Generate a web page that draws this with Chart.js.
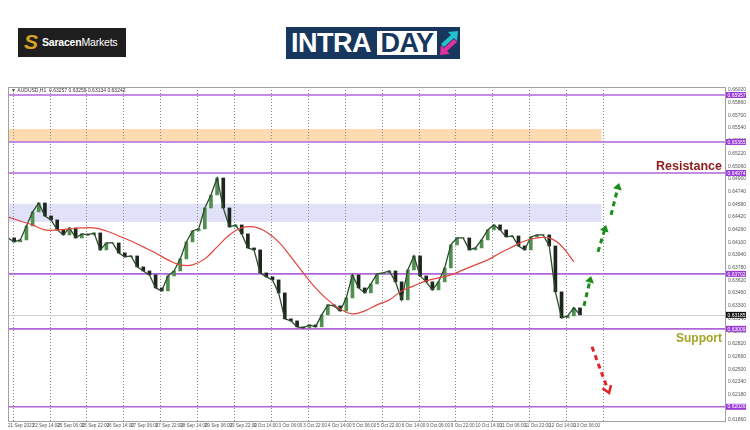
<!DOCTYPE html>
<html>
<head>
<meta charset="utf-8">
<script src="https://cdn.jsdelivr.net/npm/chart.js@4.4.0/dist/chart.umd.min.js"></script>
<style>
    html, body { margin: 0; padding: 0; background: #fff; }
    #contenedor { position: relative; width: 750px; height: 430px; overflow: hidden; font-family: "Liberation Sans", Arial, sans-serif; }
    #grafico { position: absolute; left: 0; top: 0; }
    .logo-saracen { position: absolute; left: 18px; top: 28px; width: 108px; height: 29px; background: #1e1e1e; color: #fff; }
    .logo-saracen .icono { position: absolute; left: 6px; top: 2px; font: italic bold 21px "Liberation Sans", sans-serif; color: #d9a126; }
    .logo-saracen .texto { position: absolute; left: 24px; top: 8px; font-size: 10.5px; letter-spacing: -0.2px; }
    .logo-intraday { position: absolute; left: 286px; top: 27px; width: 174px; height: 32px; background: #17375e; }
    .logo-intraday .intra { position: absolute; left: 5px; top: 1px; font: bold 27px "Liberation Sans", sans-serif; color: #fff; letter-spacing: -0.5px; }
    .logo-intraday .day { position: absolute; left: 91px; top: 4px; height: 24px; width: 60px; background: #fff; color: #17375e; font: bold 27px "Liberation Sans", sans-serif; line-height: 25px; letter-spacing: -0.5px; text-align: center; }
    .logo-intraday svg { position: absolute; left: 152px; top: 2px; }
</style>
</head>
<body>
<div id="contenedor">
    <canvas id="grafico" width="750" height="430"></canvas>
    <div class="logo-saracen"><span class="icono">S</span><span class="texto"><b>Saracen</b>Markets</span></div>
    <div class="logo-intraday">
        <span class="intra">INTRA</span><span class="day">DAY</span>
        <svg width="22" height="28" viewBox="0 0 22 28">
            <path d="M3 15 L13 6 L10 3 L20 2 L19 12 L16 9 L6 18 Z" fill="#22c3cc"/>
            <path d="M19 13 L9 22 L12 25 L2 26 L3 16 L6 19 L16 10 Z" fill="#e0329c"/>
        </svg>
    </div>
</div>
<script>
// Cierres H1 muestreados cada 4 velas (indice de vela = i * 4)
const cierres = [
    0.64155, 0.64105, 0.64130, 0.64306, 0.64483, 0.64596, 0.64432, 0.64382, 0.64256, 0.64193,
    0.64281, 0.64155, 0.64206, 0.64193, 0.64218, 0.64004, 0.64092, 0.64092, 0.63966, 0.63916,
    0.63928, 0.63790, 0.63739, 0.63689, 0.63525, 0.63487, 0.63676, 0.63739, 0.63891, 0.64105,
    0.64243, 0.64269, 0.64533, 0.64697, 0.64911, 0.64533, 0.64294, 0.64319, 0.64206, 0.64029,
    0.64004, 0.63714, 0.63664, 0.63626, 0.63462, 0.63135, 0.63109, 0.63034, 0.63021, 0.63059,
    0.63034, 0.63185, 0.63311, 0.63298, 0.63235, 0.63399, 0.63689, 0.63525, 0.63462, 0.63576,
    0.63702, 0.63714, 0.63739, 0.63601, 0.63374, 0.63752, 0.63928, 0.63676, 0.63601, 0.63500,
    0.63601, 0.63777, 0.64067, 0.64155, 0.64155, 0.64004, 0.64029, 0.64130, 0.64256, 0.64319,
    0.64256, 0.64168, 0.64180, 0.64054, 0.64004, 0.64168, 0.64193, 0.64193, 0.64054, 0.63475,
    0.63147, 0.63172, 0.63273, 0.63185
];

// Media movil (cada 8 velas)
const mediaMovil = [
    0.64420, 0.64369, 0.64319, 0.64256, 0.64256, 0.64269, 0.64281, 0.64281, 0.64243, 0.64180,
    0.64117, 0.64042, 0.63966, 0.63878, 0.63815, 0.63815, 0.63891, 0.64042, 0.64193, 0.64281,
    0.64294, 0.64231, 0.64105, 0.63916, 0.63714, 0.63525, 0.63374, 0.63261, 0.63198, 0.63235,
    0.63311, 0.63374, 0.63487, 0.63550, 0.63613, 0.63651, 0.63689, 0.63752, 0.63815, 0.63878,
    0.63966, 0.64042, 0.64117, 0.64155, 0.64155, 0.64054, 0.63853
];

// Etiquetas de tiempo (una cada 16 velas)
const etiquetasTiempo = [
    '21 Sep 2023', '22 Sep 14:00', '25 Sep 06:00', '25 Sep 22:00', '26 Sep 14:00', '27 Sep 06:00',
    '27 Sep 22:00', '28 Sep 14:00', '29 Sep 06:00', '29 Sep 22:00', '2 Oct 14:00', '3 Oct 06:00',
    '3 Oct 22:00', '4 Oct 14:00', '5 Oct 06:00', '5 Oct 22:00', '6 Oct 14:00', '9 Oct 06:00',
    '9 Oct 22:00', '10 Oct 14:00', '11 Oct 06:00', '11 Oct 22:00', '12 Oct 14:00', '13 Oct 06:00'
];

// Etiquetas del eje de precios
const ticksPrecio = [
    0.61860, 0.62020, 0.62180, 0.62340, 0.62500, 0.62660, 0.62820, 0.62980, 0.63140, 0.63300,
    0.63460, 0.63620, 0.63780, 0.63940, 0.64100, 0.64260, 0.64420, 0.64580, 0.64740, 0.64900,
    0.65060, 0.65220, 0.65380, 0.65540, 0.65700, 0.65860, 0.66020
];

// Niveles horizontales y zonas
const niveles = [0.65957, 0.65365, 0.64974, 0.63702, 0.63009, 0.62026];
const nivelResistencia = 0.64974;
const nivelSoporte = 0.63009;
const zonaNaranja = [0.65377, 0.65529];
const zonaLila = [0.64357, 0.64584];
const finZonas = 386;

// Flechas de escenario: [vela inicio, precio inicio, vela fin, precio fin]
const flechasAlcistas = [
    [374.6, 0.63298, 379.2, 0.63676],
    [383.7, 0.63979, 389.0, 0.64319],
    [392.2, 0.64445, 397.4, 0.64848]
];
const flechasBajistas = [
    [379.8, 0.62782, 390.9, 0.62202]
];

const precioActual = cierres[cierres.length - 1];

const datosVelas = cierres.map((c, i) => ({ x: i * 4, y: [i > 0 ? cierres[i - 1] : c, c] }));
const datosLinea = cierres.map((c, i) => ({ x: i * 4, y: c }));
const datosMedia = mediaMovil.map((v, j) => ({ x: j * 8, y: v }));

const fmt = (v) => v.toFixed(5);

// Plugin para zonas, niveles, rejilla, flechas y textos
const pluginNiveles = {
    id: 'niveles',
    beforeDatasetsDraw(chart) {
        const { ctx, chartArea: a, scales: { x, y } } = chart;
        ctx.save();
        ctx.beginPath();
        ctx.rect(a.left, a.top, a.width, a.height);
        ctx.clip();

        const xFin = x.getPixelForValue(finZonas);
        ctx.fillStyle = 'rgba(252, 205, 150, 0.75)';
        let y1 = y.getPixelForValue(zonaNaranja[1]), y2 = y.getPixelForValue(zonaNaranja[0]);
        ctx.fillRect(a.left, y1, xFin - a.left, y2 - y1);
        ctx.fillStyle = 'rgba(205, 205, 245, 0.6)';
        y1 = y.getPixelForValue(zonaLila[1]); y2 = y.getPixelForValue(zonaLila[0]);
        ctx.fillRect(a.left, y1, xFin - a.left, y2 - y1);

        // Rejilla vertical punteada (cada 24 velas)
        ctx.strokeStyle = '#8a8a8a';
        ctx.lineWidth = 1;
        ctx.setLineDash([1, 2]);
        for (let b = 3; b <= 390; b += 24) {
            const xx = Math.round(x.getPixelForValue(b)) + 0.5;
            ctx.beginPath();
            ctx.moveTo(xx, a.top);
            ctx.lineTo(xx, a.bottom);
            ctx.stroke();
        }
        ctx.setLineDash([]);

        // Linea del precio actual
        const yAct = Math.round(y.getPixelForValue(precioActual)) + 0.5;
        ctx.strokeStyle = '#cfcfcf';
        ctx.beginPath();
        ctx.moveTo(a.left, yAct);
        ctx.lineTo(a.right, yAct);
        ctx.stroke();

        ctx.strokeStyle = '#b165d8';
        ctx.lineWidth = 1.6;
        niveles.forEach(n => {
            const yy = y.getPixelForValue(n);
            ctx.beginPath();
            ctx.moveTo(a.left, yy);
            ctx.lineTo(a.right, yy);
            ctx.stroke();
        });
        ctx.restore();
    },
    afterDraw(chart) {
        const { ctx, chartArea: a, scales: { x, y } } = chart;
        ctx.save();

        // Marco
        ctx.strokeStyle = '#a0a0a0';
        ctx.lineWidth = 1;
        ctx.strokeRect(a.left + 0.5, a.top + 0.5, a.width, a.height);

        // Etiquetas de niveles en el eje
        ctx.font = '5px "Liberation Sans", sans-serif';
        ctx.textBaseline = 'middle';
        ctx.textAlign = 'left';
        niveles.forEach(n => {
            const yy = y.getPixelForValue(n);
            ctx.fillStyle = '#9a3bd8';
            ctx.fillRect(a.right + 1, yy - 3, 20, 6);
            ctx.fillStyle = '#fff';
            ctx.fillText(fmt(n), a.right + 2.5, yy + 0.3);
        });
        const yAct = y.getPixelForValue(precioActual);
        ctx.fillStyle = '#111';
        ctx.fillRect(a.right + 1, yAct - 3, 20, 6);
        ctx.fillStyle = '#fff';
        ctx.fillText(fmt(precioActual), a.right + 2.5, yAct + 0.3);

        // Texto de simbolo
        ctx.fillStyle = '#333';
        ctx.fillText('\u25BC AUDUSD,H1  0.63257 0.63259 0.63134 0.63242', a.left + 3, a.top + 4);

        // Flechas
        const dibujarFlecha = (f, color, relleno) => {
            const xa = x.getPixelForValue(f[0]), ya = y.getPixelForValue(f[1]);
            const xb = x.getPixelForValue(f[2]), yb = y.getPixelForValue(f[3]);
            const ang = Math.atan2(yb - ya, xb - xa);
            const largoCabeza = 8;
            ctx.strokeStyle = color;
            ctx.fillStyle = color;
            ctx.lineWidth = 3;
            ctx.setLineDash([5, 4]);
            ctx.beginPath();
            ctx.moveTo(xa, ya);
            ctx.lineTo(xb - Math.cos(ang) * 5, yb - Math.sin(ang) * 5);
            ctx.stroke();
            ctx.setLineDash([]);
            ctx.beginPath();
            ctx.moveTo(xb - largoCabeza * Math.cos(ang - 0.6), yb - largoCabeza * Math.sin(ang - 0.6));
            ctx.lineTo(xb, yb);
            ctx.lineTo(xb - largoCabeza * Math.cos(ang + 0.6), yb - largoCabeza * Math.sin(ang + 0.6));
            if (relleno) { ctx.closePath(); ctx.fill(); } else { ctx.lineWidth = 2.5; ctx.stroke(); }
        };
        flechasAlcistas.forEach(f => dibujarFlecha(f, '#1a8c1a', true));
        flechasBajistas.forEach(f => dibujarFlecha(f, '#e02424', false));

        // Textos de resistencia y soporte
        ctx.textAlign = 'right';
        ctx.textBaseline = 'alphabetic';
        ctx.font = 'bold 12.5px "Liberation Sans", sans-serif';
        ctx.fillStyle = '#8c1b1f';
        ctx.fillText('Resistance', a.right - 3, y.getPixelForValue(nivelResistencia) - 3);
        ctx.font = 'bold 12px "Liberation Sans", sans-serif';
        ctx.fillStyle = '#a5a324';
        ctx.fillText('Support', a.right - 3, y.getPixelForValue(nivelSoporte) + 13);
        ctx.restore();
    }
};

new Chart(document.getElementById('grafico'), {
    type: 'bar',
    data: {
        datasets: [
            {
                type: 'line',
                label: 'Media',
                data: datosMedia,
                borderColor: '#e0463c',
                borderWidth: 1.2,
                pointRadius: 0,
                tension: 0.4,
                order: 0
            },
            {
                type: 'line',
                label: 'Precio',
                data: datosLinea,
                borderColor: '#2e4a2e',
                borderWidth: 1.3,
                pointRadius: 0,
                tension: 0,
                order: 1
            },
            {
                type: 'bar',
                label: 'Velas',
                data: datosVelas,
                backgroundColor: (c) => {
                    const r = c.raw;
                    return r && r.y[1] >= r.y[0] ? '#4f8f4f' : '#1c261c';
                },
                barThickness: 3,
                grouped: false,
                order: 2
            }
        ]
    },
    options: {
        responsive: false,
        animation: false,
        layout: { padding: { top: 87, left: 8, right: 0, bottom: 0 } },
        plugins: { legend: { display: false }, tooltip: { enabled: false } },
        scales: {
            x: {
                type: 'linear',
                position: 'bottom',
                min: 0,
                max: 466.3,
                offset: false,
                grid: { display: false, drawTicks: false },
                border: { display: false },
                ticks: {
                    stepSize: 16,
                    includeBounds: false,
                    autoSkip: false,
                    maxRotation: 0,
                    minRotation: 0,
                    align: 'start',
                    padding: 2,
                    color: '#555',
                    font: { size: 4.6, family: '"Liberation Sans", sans-serif' },
                    callback: (v) => etiquetasTiempo[v / 16] ?? ''
                },
                afterFit: (s) => { s.height = 9; }
            },
            y: {
                type: 'linear',
                position: 'right',
                min: 0.61847,
                max: 0.66058,
                grid: { display: false, drawTicks: false },
                border: { display: false },
                afterBuildTicks: (s) => { s.ticks = ticksPrecio.map(v => ({ value: v })); },
                ticks: {
                    padding: 3,
                    color: '#555',
                    font: { size: 5, family: '"Liberation Sans", sans-serif' },
                    callback: (v) => fmt(v)
                },
                afterFit: (s) => { s.width = 25; }
            }
        }
    },
    plugins: [pluginNiveles]
});
</script>
</body>
</html>
